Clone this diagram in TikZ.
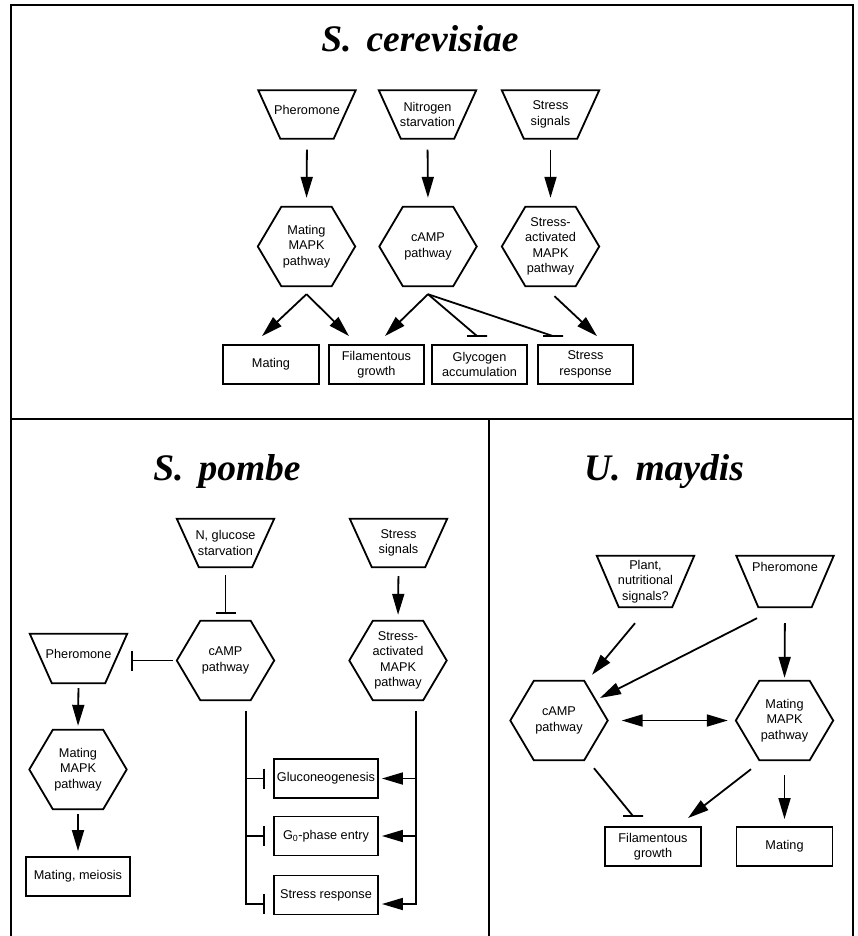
\documentclass[tikz,border=0pt]{standalone}
\usepackage{fontspec}
\setmainfont{Liberation Sans}
\newfontfamily\titlefont{Liberation Serif}
\usetikzlibrary{arrows.meta}

\tikzset{
  pathway/.style={minimum width=97pt, minimum height=79pt, inner sep=0pt, align=center},
  stimulus/.style={minimum width=97pt, minimum height=48pt, inner sep=0pt, align=center},
  outcome/.style={draw, line width=1.9pt, minimum width=95pt, minimum height=39pt, inner sep=0pt, align=center},
  link/.style={line width=1.8pt},
  act/.style={link, ->},
  inh/.style={link, -{Bar[width=20pt]}},
  species/.style={font=\titlefont\bfseries\itshape\fontsize{37.5}{40}\selectfont, anchor=base},
  panel/.style={line width=2.5pt},
}

\begin{document}
\begin{tikzpicture}[x=1pt, y=-1pt, font=\fontsize{12.7}{15.5}\selectfont,
    >={Triangle[length=21pt,width=12pt]}]
        \useasboundingbox (0,0) rectangle (858,936);
        % Frame
        \draw[panel] (11,936) -- (11,5) -- (853,5) -- (853,936);
        \draw[panel] (11,419) -- (853,419);
        \draw[panel] (489,419) -- (489,936);

        % S. cerevisiae
        \node[species] (t1) at (420,52) {S.\hspace{0.4em}cerevisiae};
        \node[stimulus, text height=0pt] (tph) at (307,114.5) {Pheromone};
        \node[stimulus] (tni) at (427.5,114.5) {Nitrogen\\starvation};
        \node[stimulus] (tst) at (550.5,114.5) {Stress\\signals};
        \node[pathway] (cm) at (306.5,246.5) {Mating\\MAPK\\pathway};
        \node[pathway] (ca) at (428,246.5) {cAMP\\pathway};
        \node[pathway] (cs) at (550.5,246.5) {Stress-\\activated\\MAPK\\pathway};
        \node[outcome, minimum width=96pt] (bma) at (271,364.5) {Mating};
        \node[outcome] (bfi) at (376.5,364.5) {Filamentous\\growth};
        \node[outcome] (bgl) at (479.5,364.5) {Glycogen\\accumulation};
        \node[outcome] (bsr) at (585.5,364.5) {Stress\\response};

        % S. pombe
        \node[species] (t2) at (227,480) {S.\hspace{0.4em}pombe};
        \node[stimulus] (png) at (225.5,543) {N, glucose\\starvation};
        \node[stimulus] (pss) at (398.5,543) {Stress\\signals};
        \node[pathway] (pc) at (225.5,660.5) {cAMP\\pathway};
        \node[pathway] (ps) at (398,660.5) {Stress-\\activated\\MAPK\\pathway};
        \node[stimulus, minimum height=49pt, text height=0pt] (pph) at (78.5,658.5) {Pheromone};
        \node[pathway] (pm) at (78,769.5) {Mating\\MAPK\\pathway};
        \node[outcome, minimum width=104pt] (bmm) at (78,876.5) {Mating, meiosis};
        \node[outcome, minimum width=104pt] (bgn) at (326,778.5) {Gluconeogenesis};
        \node[outcome, minimum width=104pt] (bg0) at (326,836) {G\textsubscript{0}-phase entry};
        \node[outcome, minimum width=104pt] (bsp) at (326,895) {Stress response};

        % U. maydis
        \node[species] (t3) at (664,480) {U.\hspace{0.4em}maydis};
        \node[stimulus, minimum height=51pt] (upl) at (645.5,581.5) {Plant,\\nutritional\\signals?};
        \node[stimulus, minimum height=51pt, text height=0pt, text depth=20pt] (uph) at (785,581.5) {Pheromone};
        \node[pathway] (uc) at (559,720.5) {cAMP\\pathway};
        \node[pathway] (um) at (784.5,720.5) {Mating\\MAPK\\pathway};
        \node[outcome, minimum width=96pt] (ufi) at (653,846.5) {Filamentous\\growth};
        \node[outcome, minimum width=96pt] (uma) at (784.5,846.5) {Mating};

        % Outlines
        \foreach \n in {cm,ca,cs,pc,ps,pm,uc,um}
            \draw[line width=1.8pt] (\n.west) -- ([xshift=23.5pt]\n.north west) -- ([xshift=-23.5pt]\n.north east)
                -- (\n.east) -- ([xshift=-23.5pt]\n.south east) -- ([xshift=23.5pt]\n.south west) -- cycle;
        \foreach \n in {tph,tni,tst,png,pss,pph,upl,uph}
            \draw[line width=1.8pt] (\n.north west) -- (\n.north east) -- ([xshift=-22pt]\n.south east)
                -- ([xshift=22pt]\n.south west) -- cycle;

        % S. cerevisiae links
        \draw[act, shorten <=11pt, shorten >=9pt] (tph.south) -- (cm.north);
        \draw[act, shorten <=11pt, shorten >=9pt] (tni.south) -- (ca.north);
        \draw[act, shorten <=11pt, shorten >=9pt] (tst.south) -- (cs.north);
        \coordinate (cms) at ([yshift=-8pt]cm.south);
        \coordinate (cas) at ([yshift=-8pt]ca.south);
        \draw[act] (cms) -- ([xshift=-9pt,yshift=8pt]bma.north);
        \draw[act] (cms) -- ([xshift=-27.5pt,yshift=8pt]bfi.north);
        \draw[act] (cas) -- ([xshift=8.5pt,yshift=8pt]bfi.north);
        \coordinate (gly) at ([xshift=-2.5pt,yshift=8pt]bgl.north);
        \coordinate (srs) at ([xshift=-32.5pt,yshift=8pt]bsr.north);
        \draw[link] (cas) -- (gly) +(-10,0) -- +(10,0);
        \draw[link] (cas) -- (srs) +(-10,0) -- +(10,0);
        \draw[act] ([xshift=4pt,yshift=-10pt]cs.south) -- ([xshift=11.5pt,yshift=8pt]bsr.north);

        % S. pombe links
        \draw[inh, shorten <=8pt, shorten >=7pt] (png.south) -- (pc.north);
        \draw[act, shorten <=9pt, shorten >=6pt] (pss.south) -- (ps.north);
        \draw[inh, shorten <=4pt, shorten >=3.5pt] (pc.west) -- (pc.west -| pph.east);
        \draw[act, shorten <=5pt, shorten >=4pt] (pph.south) -- (pm.north);
        \draw[act, shorten <=5pt, shorten >=5pt] (pm.south) -- (bmm.north);
        \coordinate (cl) at ([xshift=20.5pt,yshift=-11pt]pc.south);
        \coordinate (cr) at ([xshift=18pt,yshift=-11pt]ps.south);
        \draw[inh] (cl) |- ([xshift=-8pt,yshift=-9pt]bsp.west);
        \draw[inh] (cl |- bgn.west) -- ([xshift=-8pt]bgn.west);
        \draw[inh] (cl |- bg0.west) -- ([xshift=-8pt]bg0.west);
        \draw[act] (cr) |- ([xshift=3pt,yshift=-9pt]bsp.east);
        \draw[act] (cr |- bgn.east) -- ([xshift=3pt]bgn.east);
        \draw[act] (cr |- bg0.east) -- ([xshift=3pt]bg0.east);

        % U. maydis links
        \draw[act] ([xshift=-10.5pt,yshift=-16pt]upl.south) -- ([xshift=33pt,yshift=6pt]uc.north);
        \draw[act] ([xshift=-28pt,yshift=-11pt]uph.south) -- ([xshift=41pt,yshift=22.5pt]uc.center);
        \draw[act, shorten <=16pt, shorten >=3pt] (uph.south) -- (um.north);
        \draw[link, <->, shorten <=14pt, shorten >=8pt] (uc.east) -- (um.west);
        \coordinate (ufb) at ([xshift=-20pt,yshift=10pt]ufi.north);
        \draw[link] ([xshift=35pt,yshift=-8pt]uc.south) -- (ufb) +(-10,0) -- +(10,0);
        \draw[act] ([xshift=-33.5pt,yshift=-9pt]um.south) -- ([xshift=35pt,yshift=8pt]ufi.north);
        \draw[act, shorten <=15pt, shorten >=7pt] (um.south) -- (uma.north);

    \end{tikzpicture}
\end{document}
